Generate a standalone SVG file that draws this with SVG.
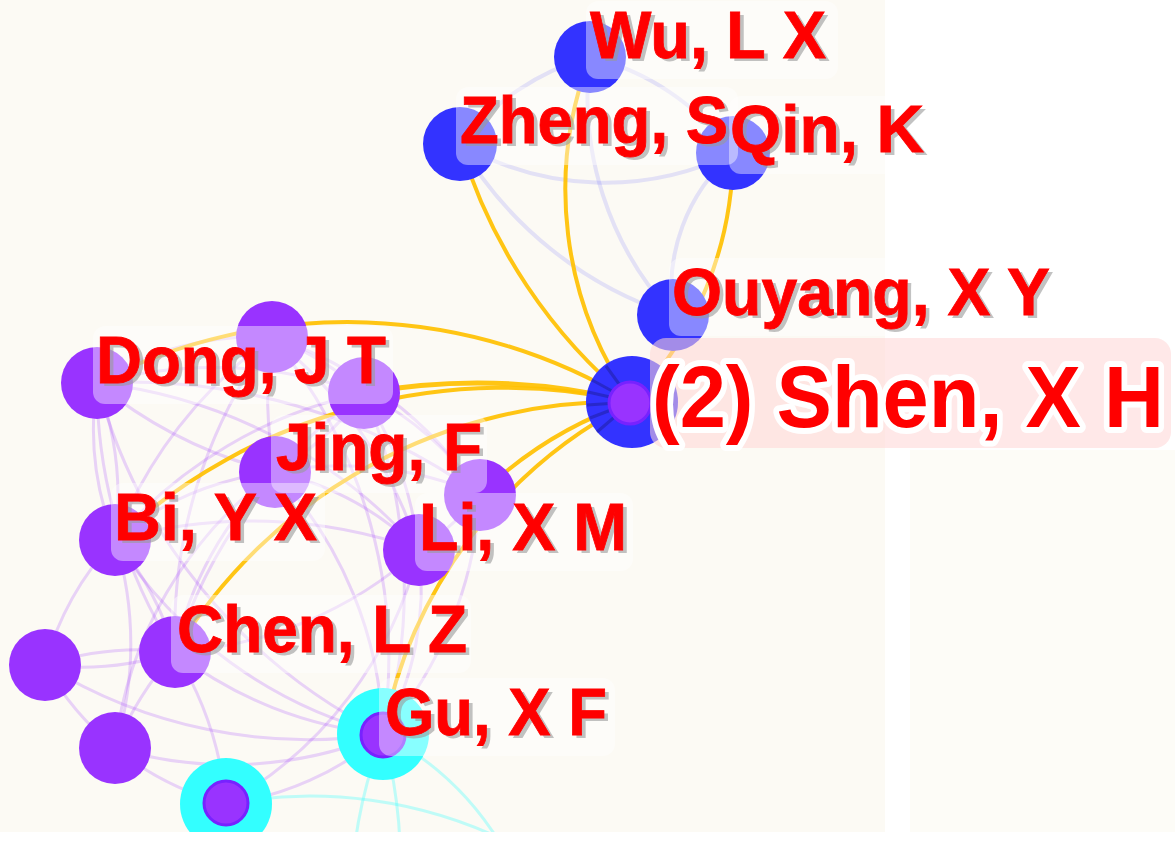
<svg xmlns="http://www.w3.org/2000/svg" width="1175" height="843" viewBox="0 0 1175 843">
<style>
.ye{fill:none;stroke:#ffc000;stroke-width:4;stroke-opacity:.92}
.be{fill:none;stroke:#3333ff;stroke-width:4;stroke-opacity:.12}
.pe{fill:none;stroke:#9933ff;stroke-width:3;stroke-opacity:.2}
.ce{fill:none;stroke:#33ffff;stroke-width:3;stroke-opacity:.3}
.sp{stroke:#1a1a8c;stroke-width:3;stroke-opacity:.45}
.bn{fill:#3333ff}
.pn{fill:#9933ff}
.cn{fill:#33ffff}
.inr{fill:#9933ff;stroke:#7722ff;stroke-width:3}
.box{fill:#ffffff;fill-opacity:.42}
.lbl{font-family:"Liberation Sans",Arial,sans-serif;font-weight:bold;font-size:66px;fill:#ff0000;stroke:#ff0000;stroke-width:.8}
.sh{font-family:"Liberation Sans",Arial,sans-serif;font-weight:bold;font-size:66px;fill:#9a9a9a;fill-opacity:.6}
.big{font-family:"Liberation Sans",Arial,sans-serif;font-weight:bold;font-size:88px;fill:#ff0000;stroke:#ffffff;stroke-width:12;stroke-linejoin:round;paint-order:stroke}
</style>
<rect width="1175" height="843" fill="#fcfaf4"/>
<rect x="885" y="0" width="290" height="843" fill="#ffffff"/>
<rect x="910" y="450" width="265" height="382" fill="#fdfcf7"/>
<g id="connectors">
<path class="pe" d="M97,383 A300,300 0 0 1 272,337"/>
<path class="pe" d="M97,383 A450,450 0 0 1 364,393"/>
<path class="pe" d="M97,383 A450,450 0 0 0 275,472"/>
<path class="pe" d="M97,383 A300,300 0 0 0 115,540"/>
<path class="pe" d="M97,383 A320,320 0 0 1 115,540"/>
<path class="pe" d="M97,383 A500,500 0 0 1 419,550"/>
<path class="pe" d="M97,383 A500,500 0 0 0 175,652"/>
<path class="pe" d="M97,383 A600,600 0 0 1 480,495"/>
<path class="pe" d="M97,383 A550,550 0 0 0 383,734"/>
<path class="pe" d="M272,337 A300,300 0 0 1 364,393"/>
<path class="pe" d="M272,337 A400,400 0 0 0 275,472"/>
<path class="pe" d="M272,337 A450,450 0 0 0 115,540"/>
<path class="pe" d="M272,337 A450,450 0 0 1 419,550"/>
<path class="pe" d="M272,337 A500,500 0 0 0 175,652"/>
<path class="pe" d="M272,337 A500,500 0 0 1 383,734"/>
<path class="pe" d="M272,337 A400,400 0 0 1 480,495"/>
<path class="pe" d="M364,393 A300,300 0 0 1 275,472"/>
<path class="pe" d="M364,393 A450,450 0 0 0 115,540"/>
<path class="pe" d="M364,393 A400,400 0 0 1 419,550"/>
<path class="pe" d="M364,393 A500,500 0 0 0 175,652"/>
<path class="pe" d="M364,393 A500,500 0 0 1 383,734"/>
<path class="pe" d="M364,393 A300,300 0 0 1 480,495"/>
<path class="pe" d="M275,472 A300,300 0 0 0 115,540"/>
<path class="pe" d="M275,472 A300,300 0 0 1 419,550"/>
<path class="pe" d="M275,472 A350,350 0 0 0 175,652"/>
<path class="pe" d="M275,472 A400,400 0 0 1 383,734"/>
<path class="pe" d="M275,472 A400,400 0 0 0 115,748"/>
<path class="pe" d="M275,472 A350,350 0 0 1 480,495"/>
<path class="pe" d="M115,540 A300,300 0 0 1 175,652"/>
<path class="pe" d="M115,540 A300,300 0 0 0 45,665"/>
<path class="pe" d="M115,540 A350,350 0 0 1 115,748"/>
<path class="pe" d="M115,540 A500,500 0 0 1 419,550"/>
<path class="pe" d="M115,540 A450,450 0 0 0 383,734"/>
<path class="pe" d="M419,550 A400,400 0 0 1 175,652"/>
<path class="pe" d="M419,550 A300,300 0 0 1 383,734"/>
<path class="pe" d="M419,550 A400,400 0 0 1 226,804"/>
<path class="pe" d="M419,550 A300,300 0 0 0 480,495"/>
<path class="pe" d="M175,652 A300,300 0 0 1 45,665"/>
<path class="pe" d="M45,665 A300,300 0 0 1 175,652"/>
<path class="pe" d="M175,652 A350,350 0 0 0 115,748"/>
<path class="pe" d="M175,652 A400,400 0 0 0 383,734"/>
<path class="pe" d="M175,652 A350,350 0 0 1 226,804"/>
<path class="pe" d="M45,665 A300,300 0 0 0 115,748"/>
<path class="pe" d="M45,665 A500,500 0 0 0 383,734"/>
<path class="pe" d="M115,748 A400,400 0 0 0 383,734"/>
<path class="pe" d="M115,748 A300,300 0 0 0 226,804"/>
<path class="pe" d="M226,804 A300,300 0 0 0 383,734"/>
<path class="pe" d="M480,495 A400,400 0 0 1 383,734"/>
<path class="ce" d="M226,804 A450,450 0 0 1 510,843"/>
<path class="ce" d="M383,734 A500,500 0 0 0 355,843"/>
<path class="ce" d="M383,734 A500,500 0 0 1 400,843"/>
<path class="ce" d="M383,734 A300,300 0 0 1 500,843"/>
<path class="be" d="M460,144 A291,291 0 0 0 733,153"/>
<path class="be" d="M460,144 A250,250 0 0 1 590,57"/>
<path class="be" d="M590,57 A250,250 0 0 1 733,153"/>
<path class="be" d="M460,144 A385,385 0 0 0 673,315"/>
<path class="be" d="M590,57 A321,321 0 0 0 673,315"/>
<path class="be" d="M733,153 A181,181 0 0 0 673,315"/>
<path class="ye" d="M590,57 A371,371 0 0 0 632,402"/>
<path class="ye" d="M460,144 A534,534 0 0 0 632,402"/>
<path class="ye" d="M733,153 A361,361 0 0 1 632,402"/>
<path class="ye" d="M97,383 A546,546 0 0 1 632,402"/>
<path class="ye" d="M115,540 A575,575 0 0 1 632,402"/>
<path class="ye" d="M364,393 A648,648 0 0 1 632,402" style="stroke-width:5"/>
<path class="ye" d="M175,652 A520,520 0 0 1 632,402"/>
<path class="ye" d="M480,495 A400,400 0 0 1 632,402"/>
<path class="ye" d="M383,734 A472,472 0 0 1 632,402"/>
</g>
<g id="node-wu"><circle class="bn" cx="590" cy="57" r="36"/></g>
<g id="node-zheng"><circle class="bn" cx="460" cy="144" r="37"/></g>
<g id="node-qin"><circle class="bn" cx="733" cy="153" r="37"/></g>
<g id="node-ouyang"><circle class="bn" cx="673" cy="315" r="36"/></g>
<g id="node-shen">
<circle class="bn" cx="632" cy="402" r="46"/>
<line class="sp" x1="632" y1="402" x2="606" y2="366"/>
<line class="sp" x1="632" y1="402" x2="592" y2="380"/>
<line class="sp" x1="632" y1="402" x2="588" y2="392"/>
<line class="sp" x1="632" y1="402" x2="587" y2="405"/>
<line class="sp" x1="632" y1="402" x2="590" y2="418"/>
<line class="sp" x1="632" y1="402" x2="597" y2="432"/>
<circle class="inr" cx="630" cy="403" r="21"/>
</g>
<g id="node-t"><circle class="pn" cx="272" cy="337" r="36"/></g>
<g id="node-dong"><circle class="pn" cx="97" cy="383" r="36"/></g>
<g id="node-n8"><circle class="pn" cx="364" cy="393" r="36"/></g>
<g id="node-jing"><circle class="pn" cx="275" cy="472" r="36"/></g>
<g id="node-n10"><circle class="pn" cx="480" cy="495" r="36"/></g>
<g id="node-bi"><circle class="pn" cx="115" cy="540" r="36"/></g>
<g id="node-li"><circle class="pn" cx="419" cy="550" r="36"/></g>
<g id="node-chen"><circle class="pn" cx="175" cy="652" r="36"/></g>
<g id="node-u14"><circle class="pn" cx="45" cy="665" r="36"/></g>
<g id="node-u15"><circle class="pn" cx="115" cy="748" r="36"/></g>
<g id="node-gu"><circle class="cn" cx="383" cy="734" r="46"/><circle class="inr" cx="383" cy="735" r="22"/></g>
<g id="node-u17"><circle class="cn" cx="226" cy="804" r="46"/><circle class="inr" cx="226" cy="803" r="22"/></g>
<g id="label-boxes">
<rect class="box" x="586" y="1" width="252" height="78" rx="12"/>
<rect class="box" x="456" y="87" width="282" height="78" rx="12"/>
<rect class="box" x="729" y="96" width="202" height="78" rx="12"/>
<rect class="box" x="669" y="258" width="390" height="78" rx="12"/>
<rect class="box" x="93" y="326" width="300" height="78" rx="12"/>
<rect class="box" x="271" y="415" width="216" height="78" rx="12"/>
<rect class="box" x="111" y="483" width="214" height="78" rx="12"/>
<rect class="box" x="415" y="493" width="218" height="78" rx="12"/>
<rect class="box" x="171" y="595" width="300" height="78" rx="12"/>
<rect class="box" x="379" y="678" width="236" height="78" rx="12"/>
<rect x="650" y="338" width="521" height="110" rx="16" fill="#ffd6d6" fill-opacity=".55"/>
</g>
<g id="labels">
<text class="sh" x="594" y="61" textLength="236" lengthAdjust="spacingAndGlyphs">Wu, L X</text><text class="lbl" x="590" y="58" textLength="236" lengthAdjust="spacingAndGlyphs">Wu, L X</text>
<text class="sh" x="464" y="146" textLength="268" lengthAdjust="spacingAndGlyphs">Zheng, S</text><text class="lbl" x="460" y="143" textLength="268" lengthAdjust="spacingAndGlyphs">Zheng, S</text>
<text class="sh" x="734" y="155" textLength="194" lengthAdjust="spacingAndGlyphs">Qin, K</text><text class="lbl" x="730" y="152" textLength="194" lengthAdjust="spacingAndGlyphs">Qin, K</text>
<text class="sh" x="676" y="318" textLength="378" lengthAdjust="spacingAndGlyphs">Ouyang, X Y</text><text class="lbl" x="672" y="315" textLength="378" lengthAdjust="spacingAndGlyphs">Ouyang, X Y</text>
<text class="sh" x="100" y="386" textLength="290" lengthAdjust="spacingAndGlyphs">Dong, J T</text><text class="lbl" x="96" y="383" textLength="290" lengthAdjust="spacingAndGlyphs">Dong, J T</text>
<text class="sh" x="280" y="473" textLength="206" lengthAdjust="spacingAndGlyphs">Jing, F</text><text class="lbl" x="276" y="470" textLength="206" lengthAdjust="spacingAndGlyphs">Jing, F</text>
<text class="sh" x="118" y="543" textLength="203" lengthAdjust="spacingAndGlyphs">Bi, Y X</text><text class="lbl" x="114" y="540" textLength="203" lengthAdjust="spacingAndGlyphs">Bi, Y X</text>
<text class="sh" x="423" y="553" textLength="208" lengthAdjust="spacingAndGlyphs">Li, X M</text><text class="lbl" x="419" y="550" textLength="208" lengthAdjust="spacingAndGlyphs">Li, X M</text>
<text class="sh" x="181" y="655" textLength="290" lengthAdjust="spacingAndGlyphs">Chen, L Z</text><text class="lbl" x="177" y="652" textLength="290" lengthAdjust="spacingAndGlyphs">Chen, L Z</text>
<text class="sh" x="389" y="738" textLength="222" lengthAdjust="spacingAndGlyphs">Gu, X F</text><text class="lbl" x="385" y="735" textLength="222" lengthAdjust="spacingAndGlyphs">Gu, X F</text>
<text class="big" x="652" y="427" textLength="512" lengthAdjust="spacingAndGlyphs">(2) Shen, X H</text>
</g>
<rect x="0" y="832" width="1175" height="11" fill="#ffffff"/>
</svg>
